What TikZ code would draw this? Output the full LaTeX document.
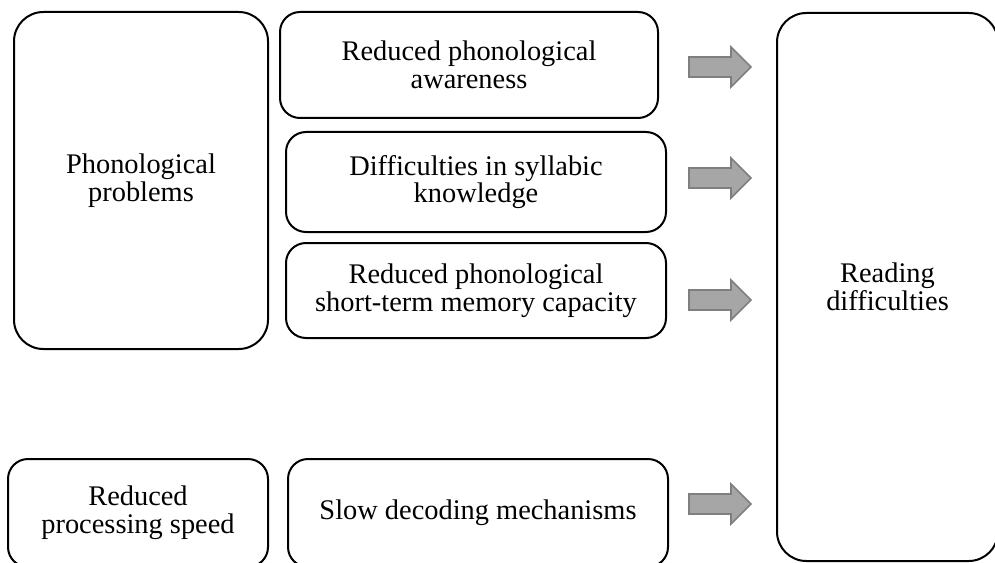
\documentclass[tikz,border=0pt]{standalone}
\usepackage{fontspec}
\setmainfont{Liberation Serif}
\definecolor{arrfill}{HTML}{A6A6A6}
\definecolor{arrline}{HTML}{7F7F7F}
\tikzset{
  box/.style 2 args={draw=black, line width=1.5pt, fill=white, align=center,
    minimum width=#1*0.75pt, minimum height=#2*0.75pt, inner sep=0pt,
    rounded corners=15pt, font=\fontsize{21.3}{20.8}\selectfont},
  bigbox/.style={rounded corners=22pt},
  barrow/.style={fill=arrfill, draw=arrline, line width=1.2pt, line join=miter}
}
\begin{document}
\begin{tikzpicture}[x=0.75pt,y=-0.75pt]
\useasboundingbox (0,0) rectangle (995,563);
\clip (0,0) rectangle (995,563);
\node[box={254}{337}, bigbox] (pp) at (141,180.5) {Phonological\\problems};
\node[box={378}{106}] (b1) at (469,65) {Reduced phonological\\awareness};
\node[box={380}{100}] (b2) at (476,182) {Difficulties in syllabic\\knowledge};
\node[box={380}{95}] (b3) at (476,290.5) {Reduced phonological\\short-term memory capacity};
\node[box={260}{108}] (bl) at (138,513) {Reduced\\processing speed};
\node[box={380}{108}] (br) at (478,513) {Slow decoding mechanisms};
\node[box={221}{548}, bigbox] (rd) at (887.5,287) {Reading\\difficulties};
\foreach \n/\y in {a1/67, a2/178, a3/300, a4/504}{
  \coordinate (\n) at (689,\y);
  \draw[barrow] (\n) ++(0,-10) -- ++(42,0) -- ++(0,-10) -- ++(20,20) -- ++(-20,20) -- ++(0,-10) -- ++(-42,0) -- cycle;
}
\end{tikzpicture}
\end{document}
